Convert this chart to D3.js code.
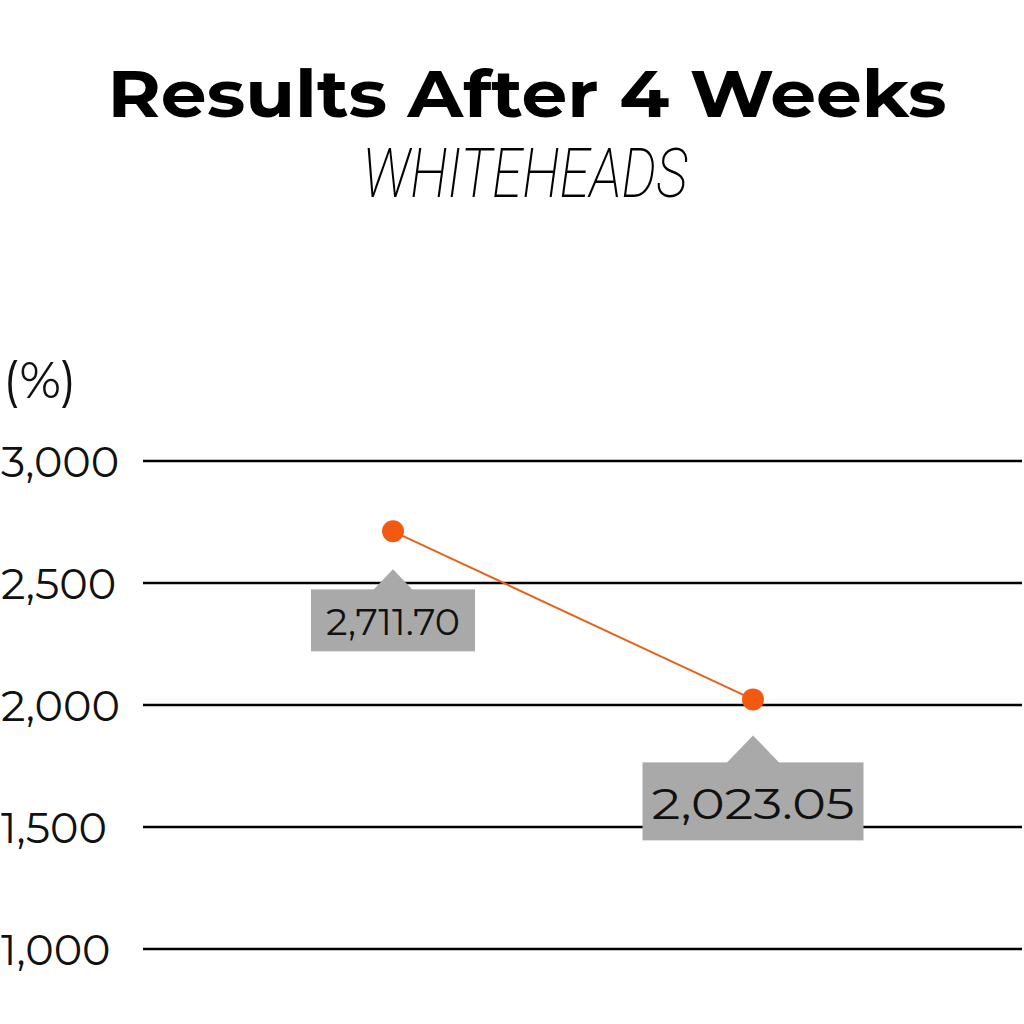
<!DOCTYPE html>
<html><head><meta charset="utf-8">
<script src="https://cdn.jsdelivr.net/npm/d3@7"></script>
<style>body{margin:0;background:#fff}svg{display:block}</style>
</head><body>
<svg id="c" width="1024" height="1024"></svg>
<script>
const categories = ["Before", "After 4 Weeks"];
const values = [2711.70, 2023.05];
const labels = ["2,711.70", "2,023.05"];
const yTicks = [1000, 1500, 2000, 2500, 3000];
const title = "Results After 4 Weeks";
const subtitle = "WHITEHEADS";
const yUnit = "(%)";

const svg = d3.select("#c");
const font = "Montserrat, 'Open Sans', Lato, sans-serif";
svg.append("rect").attr("width",1024).attr("height",1024).attr("fill","#fff");

svg.append("text").attr("x",527).attr("y",117).attr("text-anchor","middle")
  .attr("font-family",font).attr("font-weight",700).attr("font-size",66)
  .attr("textLength",839).attr("lengthAdjust","spacingAndGlyphs")
  .attr("fill","#000").text(title);
svg.append("text").attr("x",525).attr("y",197).attr("text-anchor","middle")
  .attr("font-family","Roboto, sans-serif").attr("font-weight",200).attr("font-style","italic").attr("font-size",68)
  .attr("textLength",325).attr("lengthAdjust","spacingAndGlyphs")
  .attr("fill","#000").text(subtitle);

const x = d3.scalePoint().domain(categories).range([393,753]);
const y = d3.scaleLinear().domain([1000,3000]).range([949,461]);

svg.append("text").attr("x",3).attr("y",398).attr("font-family",font).attr("font-size",50)
  .attr("fill","#111").text(yUnit);

const yAxis = d3.axisLeft(y).tickValues(yTicks).tickSize(0).tickFormat(d3.format(","));
const gA = svg.append("g").call(yAxis);
gA.select(".domain").remove();
gA.selectAll("text").attr("x",1).attr("text-anchor","start").attr("dy","0.36em")
  .attr("font-family",font).attr("font-size",43).attr("fill","#111");

svg.append("g").selectAll("line").data(yTicks).join("line")
  .attr("x1",143).attr("x2",1022).attr("y1",d=>y(d)).attr("y2",d=>y(d))
  .attr("stroke","#000").attr("stroke-width",2.5);

const line = d3.line().x((d,i)=>x(categories[i])).y(d=>y(d));
svg.append("path").datum(values).attr("d",line).attr("fill","none")
  .attr("stroke","#e8621c").attr("stroke-width",2);

svg.append("g").selectAll("circle").data(values).join("circle")
  .attr("cx",(d,i)=>x(categories[i])).attr("cy",d=>y(d)).attr("r",11).attr("fill","#f25a12");

// data labels
const lab = [
  {dy:38, tri:20, bw:164, bh:62, fs:38, tw:134, ty:46},
  {dy:36, tri:27, bw:221, bh:78, fs:44, tw:203, ty:57}
];
values.forEach((v,i)=>{
  const cx = x(categories[i]), cy = y(v);
  const L = lab[i];
  const apex = cy + L.dy;
  const top = apex + L.tri;
  const g = svg.append("g");
  g.append("path").attr("d",`M${cx},${apex}L${cx-L.tri},${top+1}L${cx+L.tri},${top+1}Z`).attr("fill","#a9a9a9");
  g.append("rect").attr("x",cx-L.bw/2).attr("y",top).attr("width",L.bw).attr("height",L.bh).attr("fill","#a9a9a9");
  g.append("text").attr("x",cx).attr("y",top+L.ty).attr("text-anchor","middle")
    .attr("font-family",font).attr("font-size",L.fs).attr("fill","#111")
    .attr("textLength",L.tw).attr("lengthAdjust","spacingAndGlyphs").text(labels[i]);
});
</script>
</body></html>
